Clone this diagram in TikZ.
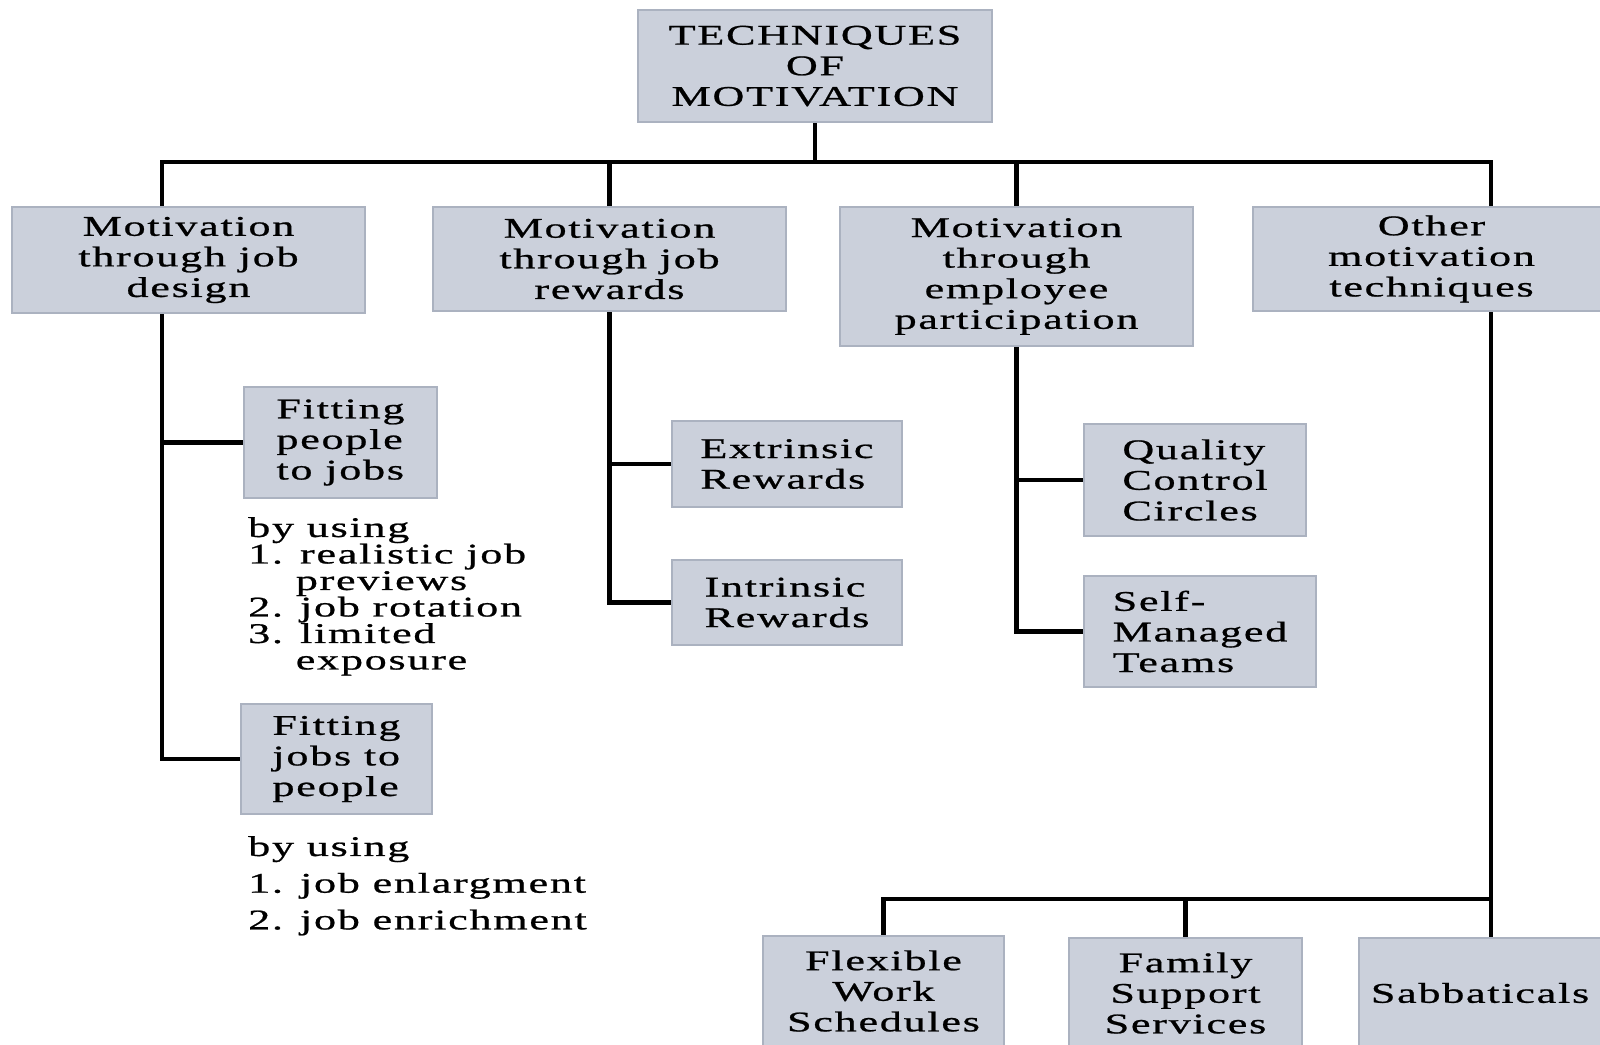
\documentclass[tikz,border=0pt]{standalone}
\usepackage{fontspec}
\setmainfont{Liberation Serif}[FakeStretch=1.55,LetterSpace=6,FakeBold=0.8]
\usetikzlibrary{calc,backgrounds}

\definecolor{boxfill}{HTML}{CBD0DB}
\definecolor{boxedge}{HTML}{ABB2C0}

\tikzset{
  box/.style={draw=boxedge, line width=2pt, fill=boxfill, anchor=north west,
    align=center, inner sep=0pt, outer sep=0pt,
    font=\fontsize{28.5}{30.6}\selectfont},
  leftbox/.style={box, align=left},
  listtext/.style={anchor=north west, align=left, inner sep=0pt},
  link/.style={line width=4.5pt, black, line cap=rect}
}

\begin{document}
\begin{tikzpicture}[x=1pt,y=-1pt]

    \useasboundingbox (0,0) rectangle (1600,1044);

    % Top
    \node[box, minimum width=354, minimum height=112] (root) at (638,10)
        {TECHNIQUES\\OF\\MOTIVATION};

    % Main branches
    \node[box, minimum width=353, minimum height=106] (jobdesign) at (12,207)
        {Motivation\\through job\\design};
    \node[box, minimum width=353, minimum height=104] (rewards) at (433,207)
        {Motivation\\through job\\rewards};
    \node[box, minimum width=353, minimum height=139] (participation) at (840,207)
        {Motivation\\through\\employee\\participation};
    \node[box, minimum width=357, minimum height=104] (other) at (1253,207)
        {Other\\motivation\\techniques};

    % Job design
    \node[leftbox, minimum width=193, minimum height=111] (fitpeople) at (244,387)
        {Fitting\\people\\to jobs};
    \node[listtext, font=\fontsize{28.5}{26.5}\selectfont] (peoplelist) at (248,517)
        {by using\\1. realistic job\\\phantom{1.\ }previews\\2. job rotation\\3. limited\\\phantom{3.\ }exposure};
    \node[leftbox, minimum width=191, minimum height=110] (fitjobs) at (241,704)
        {Fitting\\jobs to\\people};
    \node[listtext, font=\fontsize{28.5}{36.7}\selectfont] (jobslist) at (248,836)
        {by using\\1. job enlargment\\2. job enrichment};

    % Job rewards
    \node[leftbox, minimum width=230, minimum height=86] (extrinsic) at (672,421)
        {Extrinsic\\Rewards};
    \node[leftbox, minimum width=230, minimum height=85] (intrinsic) at (672,560)
        {Intrinsic\\Rewards};

    % Employee participation
    \node[leftbox, minimum width=222, minimum height=112] (quality) at (1084,424)
        {Quality\\Control\\Circles};
    \node[leftbox, minimum width=232, minimum height=111] (selfmanaged) at (1084,576)
        {Self-\\Managed\\Teams};

    % Other techniques
    \node[box, minimum width=241, minimum height=110] (flexible) at (763,936)
        {Flexible\\Work\\Schedules};
    \node[box, minimum width=233, minimum height=110] (family) at (1069,938)
        {Family\\Support\\Services};
    \node[box, minimum width=242, minimum height=110] (sabbaticals) at (1359,938)
        {Sabbaticals};

    % Connectors
    \coordinate (bus) at (0,162);
    \coordinate (lowbus) at (0,899);
    \coordinate (designjoin) at ($(jobdesign.north west)+(150,0)$);
    \coordinate (otherjoin) at ($(other.north west)+(238,0)$);
    \coordinate (sabbjoin) at ($(sabbaticals.north west)+(132,0)$);

    \begin{scope}[on background layer]
    \draw[link] (designjoin |- bus) -- (otherjoin |- bus);
    \foreach \n in {root.south, designjoin, rewards.north, participation.north, otherjoin}
        \draw[link] (\n) -- (\n |- bus);

    \draw[link] (designjoin |- jobdesign.south) |- (fitjobs.west);
    \draw[link] (designjoin |- fitpeople.west) -- (fitpeople.west);

    \draw[link] (rewards.south) |- (intrinsic.west);
    \draw[link] (rewards.south |- extrinsic.west) -- (extrinsic.west);

    \draw[link] (participation.south) |- (selfmanaged.west);
    \draw[link] (participation.south |- quality.west) -- (quality.west);

    \draw[link] (otherjoin |- other.south) -- (sabbjoin);
    \draw[link] (flexible.north |- lowbus) -- (sabbjoin |- lowbus);
    \foreach \n in {flexible.north, family.north}
        \draw[link] (\n) -- (\n |- lowbus);
    \end{scope}

\end{tikzpicture}
\end{document}
